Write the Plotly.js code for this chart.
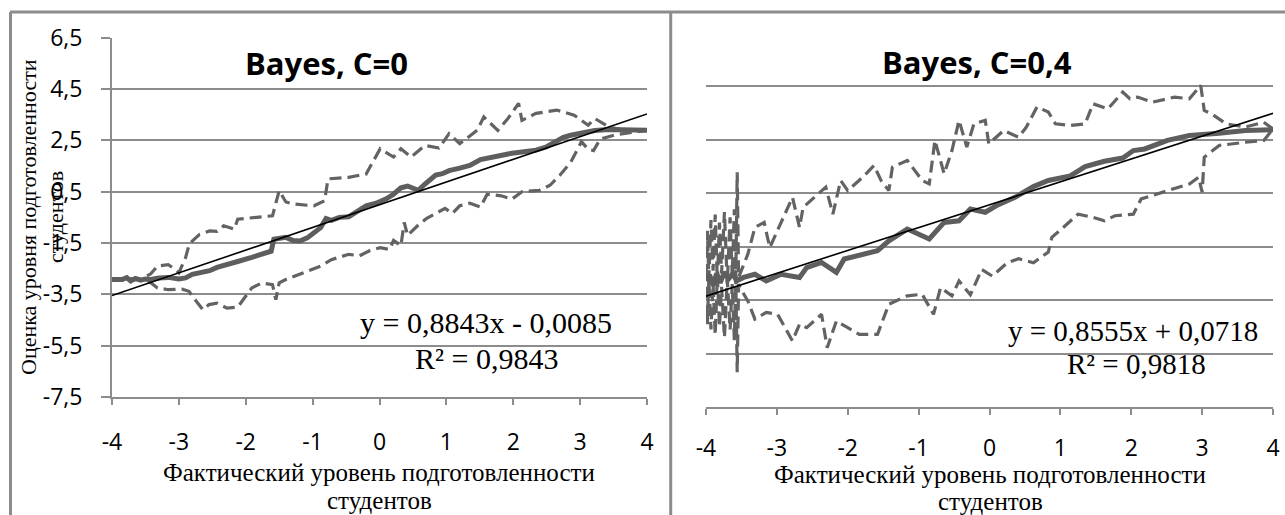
<!DOCTYPE html>
<html>
<head>
<meta charset="utf-8">
<script src="https://cdn.plot.ly/plotly-3.0.1.min.js"></script>
<style>
html,body{margin:0;padding:0;background:#fff;}
#chart{width:1285px;height:515px;}
</style>
</head>
<body>
<div id="chart"></div>
<script>
// ---------- DATA ----------
const xTickVals = [-4, -3, -2, -1, 0, 1, 2, 3, 4];
const xTickText = ["-4", "-3", "-2", "-1", "0", "1", "2", "3", "4"];
const yTickVals = [-7.5, -5.5, -3.5, -1.5, 0.5, 2.5, 4.5, 6.5];
const yTickText = ["-7,5", "-5,5", "-3,5", "-1,5", "0,5", "2,5", "4,5", "6,5"];

const titleLeft = "Bayes, C=0";
const titleRight = "Bayes, C=0,4";
const xTitleLine1 = "Фактический уровень подготовленности";
const xTitleLine2 = "студентов";
const yTitleLine1 = "Оценка уровня подготовленности";
const yTitleLine2 = "студентов";

// Left panel (C=0)
const leftMainX = [-4.00,-3.85,-3.78,-3.72,-3.65,-3.57,-3.50,-3.42,-3.30,-3.16,-3.00,-2.90,-2.80,-2.69,-2.54,-2.43,-2.28,-2.12,-1.91,-1.76,-1.62,-1.58,-1.50,-1.40,-1.29,-1.19,-1.08,-0.98,-0.88,-0.80,-0.72,-0.60,-0.46,-0.35,-0.20,-0.05,0.10,0.21,0.32,0.42,0.52,0.58,0.68,0.84,0.94,1.04,1.20,1.35,1.51,1.67,1.82,1.98,2.13,2.34,2.50,2.65,2.75,2.86,3.07,3.22,3.43,3.69,4.00];
const leftMainY = [-2.92,-2.92,-2.85,-2.98,-2.88,-2.95,-2.90,-2.92,-2.86,-2.84,-2.90,-2.86,-2.72,-2.66,-2.58,-2.45,-2.36,-2.22,-2.06,-1.92,-1.82,-1.35,-1.30,-1.28,-1.40,-1.42,-1.30,-1.12,-0.90,-0.55,-0.62,-0.50,-0.48,-0.30,-0.05,0.05,0.22,0.40,0.65,0.72,0.60,0.55,0.80,1.15,1.20,1.32,1.42,1.52,1.75,1.85,1.90,2.00,2.05,2.12,2.25,2.45,2.62,2.70,2.80,2.88,2.92,2.90,2.89];

const leftUpperX = [-4.00,-3.78,-3.57,-3.42,-3.32,-3.16,-3.05,-3.00,-2.90,-2.85,-2.80,-2.69,-2.54,-2.43,-2.33,-2.17,-2.12,-1.86,-1.60,-1.50,-1.40,-1.29,-0.98,-0.82,-0.77,-0.46,-0.20,0.01,0.21,0.32,0.47,0.68,0.89,1.04,1.20,1.46,1.56,1.77,1.92,2.08,2.13,2.34,2.65,2.91,3.12,3.22,3.43,3.69,4.00];
const leftUpperY = [-2.92,-2.88,-2.92,-2.70,-2.40,-2.34,-2.55,-2.66,-2.07,-1.60,-1.42,-1.16,-1.03,-1.05,-0.83,-0.96,-0.57,-0.51,-0.44,0.54,0.10,0.02,-0.05,0.15,1.00,1.06,1.19,2.17,1.85,2.17,1.85,2.30,2.20,2.76,2.37,2.89,3.41,2.89,3.35,3.94,3.28,3.55,3.68,3.48,3.09,3.35,3.02,2.89,2.89];

const leftLowerX = [-4.00,-3.78,-3.57,-3.42,-3.32,-3.16,-2.95,-2.85,-2.74,-2.64,-2.55,-2.43,-2.28,-2.12,-1.91,-1.76,-1.60,-1.55,-1.50,-1.40,-1.08,-0.88,-0.72,-0.60,-0.46,-0.30,-0.15,0.01,0.15,0.21,0.32,0.37,0.42,0.58,0.70,0.84,0.98,1.09,1.20,1.35,1.51,1.61,1.82,1.98,2.13,2.39,2.55,2.70,2.86,3.02,3.12,3.20,3.30,3.53,3.84,4.00];
const leftLowerY = [-2.92,-2.95,-2.92,-3.05,-3.25,-3.32,-3.30,-3.38,-3.77,-4.10,-3.90,-3.84,-4.04,-4.00,-3.25,-3.06,-3.12,-3.71,-3.05,-2.92,-2.60,-2.40,-2.15,-2.05,-1.94,-2.00,-1.80,-1.68,-1.75,-1.40,-1.60,-0.70,-1.20,-0.80,-0.55,-0.35,-0.15,-0.35,-0.05,0.05,-0.10,0.40,0.34,0.21,0.50,0.55,0.75,1.15,1.65,2.45,2.15,2.10,2.55,2.72,2.83,2.89];

const leftSlope = 0.8843, leftIntercept = -0.0085;
const leftEq = "y = 0,8843x - 0,0085";
const leftR2 = "R² = 0,9843";

// Right panel (C=0,4)
const rightMainX = [-4.00,-3.95,-3.90,-3.85,-3.80,-3.74,-3.68,-3.62,-3.57,-3.47,-3.31,-3.15,-2.94,-2.68,-2.58,-2.37,-2.16,-2.05,-1.58,-1.42,-1.16,-0.85,-0.64,-0.43,-0.27,-0.06,0.10,0.36,0.62,0.83,1.14,1.35,1.62,1.88,2.03,2.19,2.51,2.82,3.24,3.61,4.00];
const rightMainY = [-2.78,-2.55,-2.95,-2.50,-2.85,-2.45,-2.70,-2.50,-2.78,-2.65,-2.53,-2.78,-2.53,-2.65,-2.28,-2.09,-2.46,-1.96,-1.65,-1.28,-0.84,-1.21,-0.59,-0.53,-0.09,-0.21,0.04,0.35,0.75,0.98,1.15,1.50,1.70,1.82,2.10,2.16,2.48,2.66,2.75,2.85,2.88];

const rightUpperX = [-4.00,-3.98,-3.96,-3.93,-3.90,-3.87,-3.84,-3.81,-3.78,-3.74,-3.70,-3.66,-3.63,-3.60,-3.58,-3.56,-3.54,-3.50,-3.41,-3.31,-3.18,-3.10,-2.99,-2.78,-2.68,-2.63,-2.31,-2.21,-2.10,-2.00,-1.79,-1.63,-1.53,-1.42,-1.37,-1.16,-0.95,-0.85,-0.77,-0.64,-0.53,-0.43,-0.32,-0.22,-0.06,-0.01,0.20,0.41,0.52,0.67,0.83,0.93,1.14,1.35,1.46,1.67,1.88,1.98,2.09,2.30,2.61,2.82,2.98,3.03,3.13,3.34,3.61,3.87,4.00];
const rightUpperY = [-2.60,-0.90,-2.70,-0.50,-2.40,-0.30,-2.80,-0.60,-2.50,-0.20,-2.90,-0.40,-2.60,-0.10,-2.70,1.29,-2.65,-2.40,-1.78,-0.78,-0.59,-1.53,-0.90,0.35,-0.78,-0.03,0.73,-0.28,0.98,0.60,1.10,1.54,0.98,0.60,1.48,1.73,0.98,0.85,2.48,1.23,2.10,3.23,2.23,3.10,3.23,2.35,2.85,2.60,2.98,3.73,3.54,3.10,3.04,3.10,3.85,3.66,4.29,4.04,4.10,3.91,4.10,4.04,4.54,3.60,3.48,3.10,2.98,3.16,2.91];

const rightLowerX = [-4.00,-3.98,-3.96,-3.93,-3.90,-3.87,-3.84,-3.81,-3.78,-3.74,-3.70,-3.66,-3.63,-3.60,-3.58,-3.56,-3.54,-3.52,-3.41,-3.31,-3.15,-2.99,-2.78,-2.68,-2.58,-2.37,-2.29,-2.16,-2.00,-1.84,-1.58,-1.48,-1.42,-1.16,-0.95,-0.79,-0.69,-0.53,-0.43,-0.27,-0.11,0.04,0.25,0.41,0.62,0.83,0.88,1.04,1.25,1.46,1.62,1.77,2.03,2.14,2.51,2.82,2.95,3.00,3.03,3.24,3.61,3.87,4.00];
const rightLowerY = [-3.00,-4.40,-2.70,-4.60,-2.90,-4.80,-2.60,-4.50,-3.00,-4.90,-2.70,-4.60,-2.90,-5.00,-2.60,-6.20,-2.90,-3.03,-3.53,-4.21,-3.96,-4.03,-5.03,-4.40,-4.53,-4.03,-5.28,-4.28,-4.53,-4.78,-4.78,-4.03,-3.65,-3.34,-3.28,-4.03,-3.03,-3.34,-2.78,-3.30,-2.35,-2.60,-2.10,-1.95,-2.10,-1.70,-1.15,-0.78,-0.28,-0.40,-0.53,-0.34,-0.28,0.29,0.60,0.85,1.10,0.54,1.85,2.29,2.41,2.48,2.91];

const rightSlope = 0.8555, rightIntercept = 0.0718;
const rightEq = "y = 0,8555x + 0,0718";
const rightR2 = "R² = 0,9818";

// ---------- STYLE / LAYOUT ----------
const W = 1285, H = 515;
const GRID = "#8c8c8c";
const LINEC = "#636363";
const px = x => x / W;
const py = y => 1 - y / H;

const trendXs = [-4, 4];
function trace(x, y, xa, ya, style) {
  return Object.assign({x: x, y: y, xaxis: xa, yaxis: ya, mode: "lines", type: "scatter",
    hoverinfo: "skip", showlegend: false}, style);
}
const dashStyle = {line: {color: LINEC, width: 3.2, dash: "12px,6px"}};
const mainStyle = {line: {color: "#5e5e5e", width: 5}};
const trendStyle = {line: {color: "#000000", width: 1.6}};

const data = [
  trace(leftUpperX, leftUpperY, "x", "y", dashStyle),
  trace(leftLowerX, leftLowerY, "x", "y", dashStyle),
  trace(leftMainX, leftMainY, "x", "y", mainStyle),
  trace(trendXs, trendXs.map(v => leftSlope * v + leftIntercept), "x", "y", trendStyle),
  trace(rightUpperX, rightUpperY, "x2", "y2", dashStyle),
  trace(rightLowerX, rightLowerY, "x2", "y2", dashStyle),
  trace(rightMainX, rightMainY, "x2", "y2", mainStyle),
  trace(trendXs, trendXs.map(v => rightSlope * v + rightIntercept), "x2", "y2", trendStyle)
];

const tickFont = {family: "Open Sans, sans-serif", size: 23, color: "#000"};
function xAxis(domain, anchor, standoff) {
  return {domain: domain, anchor: anchor, range: [-4, 4], tickmode: "array",
    tickvals: xTickVals, ticktext: xTickText, ticks: "outside", ticklen: 6, tickwidth: 2,
    tickcolor: GRID, showline: true, linecolor: GRID, linewidth: 2, showgrid: false,
    zeroline: false, tickfont: tickFont, ticklabelstandoff: standoff, fixedrange: true};
}
const layout = {
  width: W, height: H,
  margin: {l: 0, r: 0, t: 0, b: 0, pad: 0},
  paper_bgcolor: "#fff", plot_bgcolor: "rgba(0,0,0,0)",
  showlegend: false,
  xaxis: xAxis([px(112), px(647)], "y", 17),
  yaxis: {domain: [py(397), py(37.7)], anchor: "x", range: [-7.5, 6.5], tickmode: "array",
    tickvals: yTickVals, ticktext: yTickText, ticks: "outside", ticklen: 9, tickwidth: 2,
    tickcolor: GRID, showline: true, linecolor: GRID, linewidth: 2, showgrid: true,
    gridcolor: GRID, gridwidth: 2, zeroline: false, tickfont: tickFont,
    ticklabelstandoff: 14, fixedrange: true},
  xaxis2: xAxis([px(706), px(1273)], "y2", 13),
  yaxis2: {domain: [py(407), py(33)], anchor: "x2", range: [-7.5, 6.5], tickmode: "array",
    tickvals: yTickVals, showticklabels: false, ticks: "", showline: false, showgrid: true,
    gridcolor: GRID, gridwidth: 2, zeroline: false, fixedrange: true},
  shapes: [
    {type: "line", xref: "paper", yref: "paper", x0: px(10), x1: 1, y0: py(12), y1: py(12), line: {color: GRID, width: 3}},
    {type: "line", xref: "paper", yref: "paper", x0: px(10.5), x1: px(10.5), y0: py(12), y1: 0, line: {color: GRID, width: 3}},
    {type: "line", xref: "paper", yref: "paper", x0: px(670.7), x1: px(670.7), y0: py(12), y1: 0, line: {color: GRID, width: 3}}
  ],
  annotations: []
};

const titleFont = {family: "Open Sans, sans-serif", size: 31, color: "#000", weight: "bold"};
const serif = s => ({family: "Liberation Serif, Times New Roman, serif", size: s, color: "#000"});
function ann(text, x, y, font, extra) {
  layout.annotations.push(Object.assign({text: text, xref: "paper", yref: "paper",
    x: px(x), y: py(y), xanchor: "center", yanchor: "middle", showarrow: false, font: font,
    borderpad: 0}, extra || {}));
}
ann("<b>" + titleLeft + "</b>", 326, 63, titleFont);
ann("<b>" + titleRight + "</b>", 977, 62, titleFont);
ann(leftEq, 486, 322, serif(30));
ann(leftR2, 486, 358, serif(30));
ann(rightEq, 1133, 331, serif(29));
ann(rightR2, 1136, 364, serif(29));
ann(xTitleLine1, 379, 472, serif(25));
ann(xTitleLine2, 379, 500.5, serif(25));
ann(xTitleLine1, 990, 474, serif(25));
ann(xTitleLine2, 990, 501, serif(25));
ann(yTitleLine1, 28, 217, serif(22), {textangle: -90});
ann(yTitleLine2, 55, 217, serif(22), {textangle: -90});

Plotly.newPlot("chart", data, layout, {staticPlot: true, displayModeBar: false});
</script>
</body>
</html>
